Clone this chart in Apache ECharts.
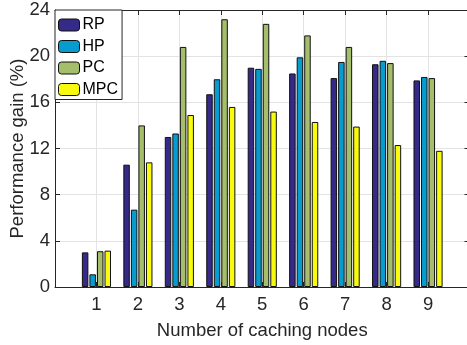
<!DOCTYPE html>
<html>
<head>
<meta charset="utf-8">
<script src="https://cdn.jsdelivr.net/npm/echarts@6/dist/echarts.min.js"></script>
<style>html,body{margin:0;padding:0;background:#fff}#c{width:467px;height:345px}</style>
</head>
<body>
<div id="c"></div>
<script>
const categories = ['1', '2', '3', '4', '5', '6', '7', '8', '9'];
const seriesNames = ['RP', 'HP', 'PC', 'MPC'];
const rp  = [3.0, 10.6, 13.0, 16.7, 19.0, 18.5, 18.1, 19.3, 17.9];
const hp  = [1.1, 6.7, 13.3, 18.0, 18.9, 19.9, 19.5, 19.6, 18.2];
const pc  = [3.1, 14.0, 20.8, 23.2, 22.8, 21.8, 20.8, 19.4, 18.1];
const mpc = [3.15, 10.8, 14.9, 15.6, 15.2, 14.3, 13.9, 12.3, 11.8];
const yTicks = [0, 4, 8, 12, 16, 20, 24];
const colors = ['#352A87', '#079CCF', '#A5BE6B', '#F9FB0E'];

const FONT = 'Liberation Sans';
const TXT = '#262626';
const allValues = [rp, hp, pc, mpc];
// axis spans 0..10 with the nine groups at 1..9 (empty slots at both ends)
const axisData = [''].concat(categories, ['']);

const chart = echarts.init(document.getElementById('c'), null, {renderer: 'canvas'});
const series = seriesNames.map((name, i) => ({
  name: name,
  type: 'bar',
  barWidth: 6.5,
  barGap: '16%',
  data: [null].concat(allValues[i], [null]),
  itemStyle: {color: colors[i], borderColor: '#111', borderWidth: 1},
  emphasis: {disabled: true},
  animation: false
}));

const tick = {show: true, inside: true, length: 5, lineStyle: {color: '#262626'}};
const line = {show: true, onZero: false, lineStyle: {color: '#262626', width: 1}};

chart.setOption({
  animation: false,
  textStyle: {fontFamily: FONT},
  grid: {left: 55, top: 10, width: 414.5, height: 277, containLabel: false, outerBoundsMode: 'none'},
  legend: {
    left: 55, top: 10, orient: 'vertical',
    data: seriesNames,
    itemWidth: 21, itemHeight: 12, itemGap: 5.5,
    padding: [7, 4, 2, 3],
    backgroundColor: '#fff', borderColor: '#262626', borderWidth: 1,
    textStyle: {fontFamily: FONT, fontSize: 16, color: '#000', padding: [0, 0, 0, -2]},
    itemStyle: {borderColor: '#111', borderWidth: 1},
    z: 10
  },
  xAxis: [{
    type: 'category', data: axisData, boundaryGap: false,
    name: 'Number of caching nodes', nameLocation: 'middle', nameGap: 34, nameMoveOverlap: false,
    nameTextStyle: {fontFamily: FONT, fontSize: 18.5, color: TXT},
    axisLine: line, axisTick: Object.assign({interval: 0}, tick),
    axisLabel: {fontFamily: FONT, fontSize: 18.5, color: TXT, margin: 8, interval: 0},
    splitLine: {show: true, interval: 0, lineStyle: {color: '#e3e3e3', width: 1}}
  }, {
    type: 'category', data: axisData, boundaryGap: false, position: 'top',
    axisLine: line, axisTick: Object.assign({interval: 0}, tick),
    axisLabel: {show: false}, splitLine: {show: false}
  }],
  yAxis: [{
    type: 'value', min: 0, max: 24, interval: 4,
    name: 'Performance gain (%)', nameLocation: 'middle', nameGap: 28, nameMoveOverlap: false,
    nameTextStyle: {fontFamily: FONT, fontSize: 18.5, color: TXT},
    axisLine: line, axisTick: tick,
    axisLabel: {fontFamily: FONT, fontSize: 18.5, color: TXT, margin: 5,
      formatter: v => (yTicks.indexOf(v) >= 0 ? String(v) : '')},
    splitLine: {show: true, lineStyle: {color: '#e3e3e3', width: 1}}
  }, {
    type: 'value', min: 0, max: 24, interval: 4, position: 'right',
    axisLine: line, axisTick: tick,
    axisLabel: {show: false}, splitLine: {show: false}
  }],
  series: series
});
</script>
</body>
</html>
